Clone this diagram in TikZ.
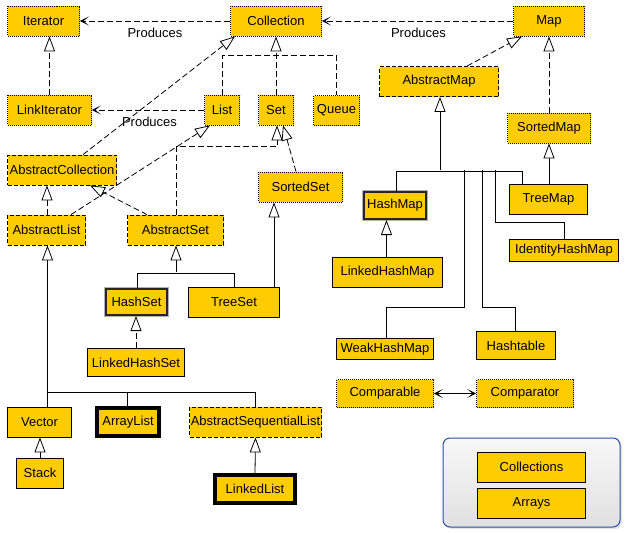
\documentclass[tikz,border=0pt]{standalone}
\usepackage{fontspec}
\setmainfont{Liberation Sans}
\usetikzlibrary{arrows.meta,shadows}
\definecolor{ycol}{RGB}{255,204,0}
\definecolor{pblue}{RGB}{40,80,165}
\begin{document}
\begin{tikzpicture}[x=1pt,y=-1pt,
  every node/.style={font=\fontsize{13}{15}\selectfont},
  box/.style={fill=ycol, draw=black, inner sep=0pt, minimum height=30pt, line width=0.8pt},
  iface/.style={box, dash pattern=on 1pt off 1pt},
  abst/.style={box, dash pattern=on 4pt off 2pt},
  cls/.style={box},
  core/.style={box, draw=black!85, line width=2pt, preaction={draw=gray!60, line width=3.6pt}},
  heavy/.style={box, line width=3.6pt},
  panel/.style={rounded corners=7pt, draw=pblue, line width=1pt, top color=gray!6, bottom color=gray!24, inner sep=0pt, drop shadow={opacity=0.2, shadow xshift=2pt, shadow yshift=-2pt}},
  conn/.style={line width=0.8pt},
  dep/.style={conn, dash pattern=on 6pt off 3pt},
  inh/.style={-{Triangle[length=15pt,width=11pt,fill=white]}},
  prod/.style={-{Stealth[length=9pt,width=9pt,inset=5.5pt]}},
  lbl/.style={inner sep=0pt},
]
\useasboundingbox (0,0) rectangle (630,533);
\fill[white] (0,0) rectangle (630,533);

% nodes
\node[iface, minimum width=72pt] (iter) at (43.5,21) {Iterator};
\node[iface, minimum width=91pt] (coll) at (276,21) {Collection};
\node[iface, minimum width=71pt] (map) at (549,21) {Map};
\node[iface, minimum width=84pt] (linkit) at (49.5,110) {LinkIterator};
\node[iface, minimum width=35pt] (list) at (222,110) {List};
\node[iface, minimum width=35pt] (set) at (276,110) {Set};
\node[iface, minimum width=46pt] (queue) at (336.5,110.5) {Queue};
\node[abst, minimum width=119pt] (absmap) at (439,81.5) {AbstractMap};
\node[iface, minimum width=83pt] (sortedmap) at (549,128) {SortedMap};
\node[abst, minimum width=109pt] (abscoll) at (62,170) {AbstractCollection};
\node[iface, minimum width=84pt] (sortedset) at (300.5,187) {SortedSet};
\node[abst, minimum width=78pt] (abslist) at (46.5,230) {AbstractList};
\node[abst, minimum width=96pt] (absset) at (175.5,230) {AbstractSet};
\node[core, minimum width=62pt, minimum height=27pt] (hashmap) at (395,205.5) {HashMap};
\node[cls, minimum width=78pt] (treemap) at (548.5,199) {TreeMap};
\node[cls, minimum width=109pt, minimum height=22pt] (idhashmap) at (564,250.5) {IdentityHashMap};
\node[cls, minimum width=110pt] (linkedhashmap) at (387.5,272) {LinkedHashMap};
\node[core, minimum width=61pt, minimum height=26pt] (hashset) at (136.5,302) {HashSet};
\node[cls, minimum width=91pt] (treeset) at (234,302) {TreeSet};
\node[cls, minimum width=97pt, minimum height=28pt] (linkedhashset) at (136,362.5) {LinkedHashSet};
\node[cls, minimum width=97pt, minimum height=21pt] (weakhashmap) at (385,349) {WeakHashMap};
\node[cls, minimum width=79pt, minimum height=28pt] (hashtable) at (516,345.5) {Hashtable};
\node[iface, minimum width=97pt, minimum height=28pt] (comparable) at (385,393.5) {Comparable};
\node[iface, minimum width=97pt, minimum height=28pt] (comparator) at (525,393.5) {Comparator};
\node[cls, minimum width=64pt] (vector) at (39.5,422) {Vector};
\node[heavy, minimum width=62pt, minimum height=28pt] (arraylist) at (128,422) {ArrayList};
\node[abst, minimum width=132pt] (asl) at (255.5,422) {AbstractSequentialList};
\node[cls, minimum width=47pt] (stack) at (40,473) {Stack};
\node[heavy, minimum width=80pt, minimum height=28pt] (linkedlist) at (255,489) {LinkedList};

\node[panel, minimum width=177pt, minimum height=89pt] (panel) at (531.5,482.5) {};
\node[cls, minimum width=108pt] (collections) at (531.5,467) {Collections};
\node[cls, minimum width=108pt] (arrays) at (531.5,503) {Arrays};

\node[lbl] (p1) at (155,32.5) {Produces};
\node[lbl] (p2) at (418.5,32.5) {Produces};
\node[lbl] (p3) at (149.5,121.5) {Produces};

\coordinate (wj) at (464,170);
\coordinate (hj) at (482,170);
\coordinate (ij) at (495,170);

% connectors
\draw[dep,prod] (coll.west) -- (iter.east);
\draw[dep,prod] (map.west) -- (coll.east);
\draw[dep,prod] (list.west) -- (linkit.east);
\draw[dep,inh] (linkit.north) -- (linkit.north |- iter.south);
\draw[dep,inh] ([xshift=21pt]abscoll.north) -- ([xshift=-41pt]coll.south);
\draw[dep,inh] (set.north) -- (coll.south);
\draw[dep] (list.north) -- ++(0,-39) -| (queue.north);
\draw[dep,inh] ([xshift=24.5pt]abslist.north) -- ([xshift=-12pt]list.south);
\draw[dep,inh] ([xshift=0.5pt]absset.north) -- ++(0,-68) -| ([xshift=1pt]set.south);
\draw[dep,inh] ([xshift=-4.5pt]sortedset.north) -- ([xshift=7pt]set.south);
\draw[dep,inh] ([xshift=0.5pt]abslist.north) -- ([xshift=0.5pt]abslist.north |- abscoll.south);
\draw[dep,inh] ([xshift=-28.5pt]absset.north) -- ([xshift=28pt]abscoll.south);
\draw[conn,inh] ([xshift=0.5pt,yshift=-27pt]absset.south) -- ([xshift=0.5pt]absset.south);
\draw[conn] ([xshift=0.5pt]hashset.north) -- ++(0,-15) -| (treeset.north);
\draw[conn,inh] ([xshift=40pt]treeset.north) -- ([xshift=40pt]treeset.north |- sortedset.south);
\draw[dep,inh] (linkedhashset.north) -- (linkedhashset.north |- hashset.south);
\draw[conn,inh] ([xshift=8pt]vector.north) -- ([xshift=8pt]vector.north |- abslist.south);
\draw[conn] ([xshift=8pt]vector.north) -- ++(0,-14) -| (asl.north);
\draw[conn] ([xshift=-1pt]arraylist.north) -- ++(0,-13);
\draw[conn,inh] (stack.north) -- (stack.north |- vector.south);
\draw[conn,inh] (linkedlist.north) -- (asl.south);
\draw[dep,inh] ([xshift=28pt]absmap.north) -- ([xshift=-27pt]map.south);
\draw[dep,inh] (sortedmap.north) -- (map.south);
\draw[conn,inh] ([xshift=0.5pt]treemap.north) -- ([xshift=0.5pt]treemap.north |- sortedmap.south);
\draw[conn,inh] ([xshift=1pt,yshift=-73pt]absmap.south) -- ([xshift=1pt]absmap.south);
\draw[conn] ([xshift=1pt]hashmap.north) -- ++(0,-20) -| ([xshift=-26.5pt]treemap.north);
\draw[conn] ([xshift=1pt]weakhashmap.north) -- ++(0,-31) -| (wj);
\draw[conn] ([xshift=-1pt]hashtable.north) -- ++(0,-24) -| (hj);
\draw[conn] (idhashmap.north) -- ++(0,-17) -| (ij);
\draw[conn,inh] ([xshift=-1pt]linkedhashmap.north) -- ([xshift=-1pt]linkedhashmap.north |- hashmap.south);
\draw[conn,{Stealth[length=9pt,width=9pt,inset=5.5pt]}-{Stealth[length=9pt,width=9pt,inset=5.5pt]}] (comparable.east) -- (comparator.west);
\end{tikzpicture}
\end{document}
